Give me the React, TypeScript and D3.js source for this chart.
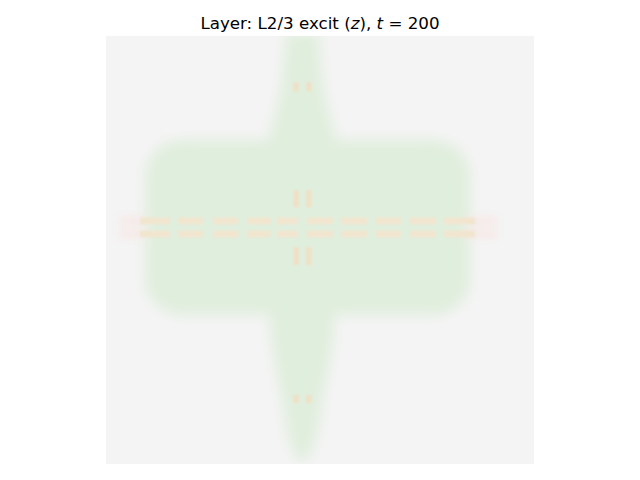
import * as d3 from "d3";

// grid units of the image (128 x 128 cells)
const GRID = 128;

// green plus shape: body rectangle and the vertical spindle
const bodyX = [11.7, 108.9];
const bodyY = [31.1, 83.4];
const spindleCenter = 58.7;
const spindleY = [-1, 19.1, 31.1, 83.4, 108.9, 123.8, 127.2];
const spindleHalfWidth = [4.8, 7, 9.7, 9.7, 6, 2.9, 0.8];

// orange dashed rows across the body
const dashRowY = [55.3, 59.2];
const dashStart = [10.2, 21.5, 32, 42.2, 51.1, 60.1, 70.3, 80.7, 90.9, 101.1];
const dashLength = [9, 7.5, 7.5, 7, 6.3, 7.8, 7.8, 7.5, 7.8, 9.3];
// reddish ends of the dashed rows
const edgeStart = [4, 107];
const edgeLength = [8, 10];

// small paired bars on the vertical arm
const pairY = [15.2, 48.7, 65.8, 108.6];
const pairHeight = [2.7, 5.1, 5.4, 2.4];
const pairOffset = [-2.6, 1.2];

const bg = "#f4f4f4";
const green = "#e0eedd";
const orange = "#f2e5cf";
const bar = "#f0e0c4";
const pink = "#f8e4e2";

export default function App() {
  const width = 640;
  const height = 480;
  const left = 106, top = 36, size = 428;
  const x = d3.scaleLinear().domain([0, GRID]).range([left, left + size]);
  const y = d3.scaleLinear().domain([0, GRID]).range([top, top + size]);
  const k = size / GRID;

  const spindle = d3
    .area<number>()
    .y((_, i) => y(spindleY[i]))
    .x0((_, i) => x(spindleCenter - spindleHalfWidth[i]))
    .x1((_, i) => x(spindleCenter + spindleHalfWidth[i]))
    .curve(d3.curveMonotoneY)(spindleY) as string;

  return (
    <svg width={width} height={height} style={{ position: "absolute", left: 0, top: 0 }}>
      <defs>
        <clipPath id="img">
          <rect x={left} y={top} width={size} height={size} />
        </clipPath>
        <filter id="soft" filterUnits="userSpaceOnUse" x={0} y={0} width={width} height={height}>
          <feGaussianBlur stdDeviation={6.5} />
        </filter>
        <filter id="edge" filterUnits="userSpaceOnUse" x={0} y={0} width={width} height={height}>
          <feGaussianBlur stdDeviation={4} />
        </filter>
        <filter id="fine" filterUnits="userSpaceOnUse" x={0} y={0} width={width} height={height}>
          <feGaussianBlur stdDeviation={1.2} />
        </filter>
      </defs>
      <rect width={width} height={height} fill="#fff" />
      <g clipPath="url(#img)">
        <rect x={left} y={top} width={size} height={size} fill={bg} />
        <g filter="url(#soft)" fill={green}>
          <rect
            x={x(bodyX[0])}
            y={y(bodyY[0])}
            width={x(bodyX[1]) - x(bodyX[0])}
            height={y(bodyY[1]) - y(bodyY[0])}
            rx={11 * k}
          />
          <path d={spindle} />
        </g>
        <g filter="url(#edge)" fill={pink}>
          {dashRowY.map((ry) =>
            edgeStart.map((s, j) => (
              <rect key={`${ry}-${j}`} x={x(s)} y={y(ry - 0.9)} width={edgeLength[j] * k} height={1.8 * k} />
            ))
          )}
        </g>
        <g filter="url(#fine)">
          {dashRowY.map((ry) =>
            dashStart.map((s, j) => (
              <rect
                key={`${ry}-${j}`}
                x={x(s)}
                y={y(ry - 1)}
                width={dashLength[j] * k}
                height={2 * k}
                fill={orange}
              />
            ))
          )}
          {pairY.map((py, i) =>
            pairOffset.map((o) => (
              <rect
                key={`${i}-${o}`}
                x={x(spindleCenter + o)}
                y={y(py - pairHeight[i] / 2)}
                width={1.5 * k}
                height={pairHeight[i] * k}
                fill={bar}
              />
            ))
          )}
        </g>
      </g>
      <text
        x={width / 2}
        y={29}
        textAnchor="middle"
        fontFamily="DejaVu Sans"
        fontSize={16.7}
        fill="#000"
      >
        Layer: L2/3 excit (<tspan fontStyle="italic">z</tspan>), <tspan fontStyle="italic">t</tspan> = 200
      </text>
    </svg>
  );
}
